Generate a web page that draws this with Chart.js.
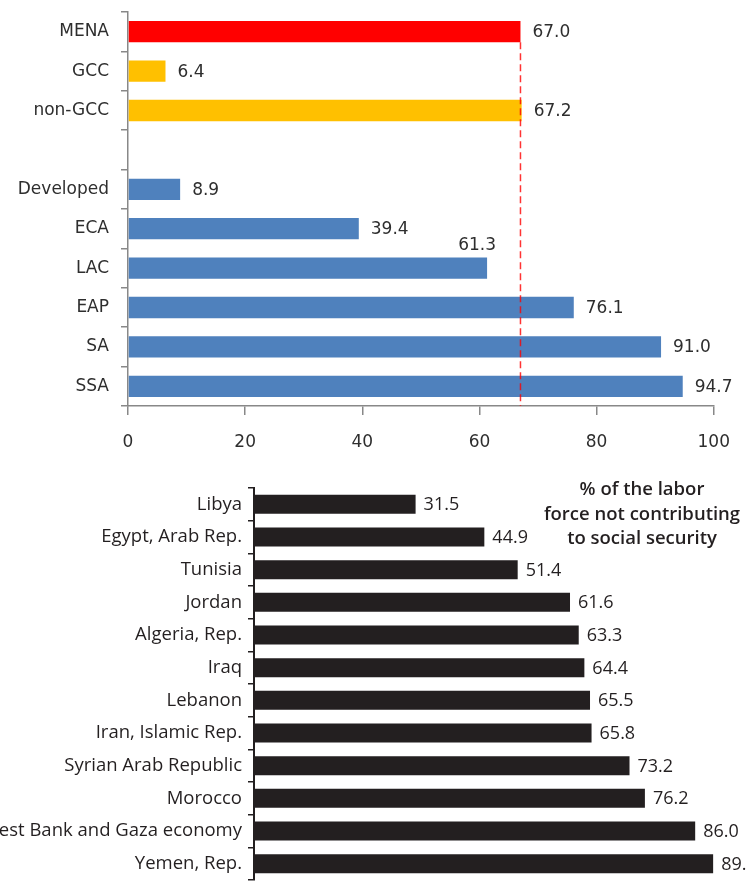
<!DOCTYPE html>
<html>
<head>
<meta charset="utf-8">
<script src="https://cdn.jsdelivr.net/npm/chart.js@4"></script>
<style>
  html, body { margin: 0; padding: 0; background: #fff; overflow: hidden; }
  #wrap { position: relative; width: 747px; height: 887px; overflow: hidden; }
  #regionChart { position: absolute; left: 0; top: 0; }
  #countryChart { position: absolute; left: 0; top: 460px; }
</style>
</head>
<body>
<div id="wrap">
  <canvas id="regionChart" width="747" height="460"></canvas>
  <canvas id="countryChart" width="770" height="427"></canvas>
</div>
<script>
// top panel: regions
const regionLabels = ["MENA", "GCC", "non-GCC", "", "Developed", "ECA", "LAC", "EAP", "SA", "SSA"];
const regionValues = [67.0, 6.4, 67.2, null, 8.9, 39.4, 61.3, 76.1, 91.0, 94.7];
const regionColors = ["#ff0000", "#ffc000", "#ffc000", "#ffffff", "#4f81bd", "#4f81bd", "#4f81bd", "#4f81bd", "#4f81bd", "#4f81bd"];
const regionTicks = [0, 20, 40, 60, 80, 100];

// bottom panel: MENA countries
const countryLabels = [
  "Libya", "Egypt, Arab Rep.", "Tunisia", "Jordan", "Algeria, Rep.", "Iraq",
  "Lebanon", "Iran, Islamic Rep.", "Syrian Arab Republic", "Morocco",
  "West Bank and Gaza economy", "Yemen, Rep."
];
const countryValues = [31.5, 44.9, 51.4, 61.6, 63.3, 64.4, 65.5, 65.8, 73.2, 76.2, 86.0, 89.5];
const countryTitle = ["% of the labor", "force not contributing", "to social security"];

// value labels at the end of each bar
const valueLabels = {
  id: "valueLabels",
  afterDatasetsDraw(chart, args, opts) {
    const ctx = chart.ctx;
    const meta = chart.getDatasetMeta(0);
    const data = chart.data.datasets[0].data;
    ctx.save();
    ctx.font = opts.font;
    ctx.fillStyle = opts.color;
    ctx.textBaseline = "middle";
    meta.data.forEach((bar, i) => {
      const v = data[i];
      if (v == null) return;
      const txt = v.toFixed(1);
      if ((opts.above || []).includes(chart.data.labels[i])) {
        ctx.textAlign = "center";
        ctx.fillText(txt, bar.x - 10, bar.y - 23);
      } else {
        ctx.textAlign = "left";
        ctx.fillText(txt, bar.x + opts.gap, bar.y + 1);
      }
    });
    ctx.restore();
  }
};

// dashed reference line at the MENA value
const menaLine = {
  id: "menaLine",
  afterDatasetsDraw(chart) {
    const ctx = chart.ctx;
    const bar = chart.getDatasetMeta(0).data[0];
    const x = chart.scales.x.getPixelForValue(chart.data.datasets[0].data[0]);
    ctx.save();
    ctx.strokeStyle = "rgba(255,0,0,0.8)";
    ctx.lineWidth = 1.5;
    ctx.setLineDash([7, 4]);
    ctx.beginPath();
    ctx.moveTo(x, bar.y + bar.height / 2);
    ctx.lineTo(x, chart.chartArea.bottom);
    ctx.stroke();
    ctx.restore();
  }
};

// floating note in the bottom panel
const noteText = {
  id: "noteText",
  afterDraw(chart, args, opts) {
    const ctx = chart.ctx;
    ctx.save();
    ctx.font = opts.font;
    ctx.fillStyle = opts.color;
    ctx.textAlign = "center";
    ctx.textBaseline = "middle";
    opts.lines.forEach((line, i) => ctx.fillText(line, opts.x, opts.y + i * opts.lineHeight));
    ctx.restore();
  }
};

new Chart(document.getElementById("regionChart"), {
  type: "bar",
  data: {
    labels: regionLabels,
    datasets: [{
      data: regionValues,
      backgroundColor: regionColors,
      categoryPercentage: 0.54,
      barPercentage: 1
    }]
  },
  options: {
    indexAxis: "y",
    responsive: false,
    animation: false,
    layout: { padding: { top: 12, right: 25, bottom: 0, left: 0 } },
    plugins: {
      legend: { display: false },
      tooltip: { enabled: false },
      valueLabels: { font: "17px 'DejaVu Sans'", color: "#2e2e2e", gap: 12, above: ["LAC"] }
    },
    scales: {
      x: {
        min: 0,
        max: 100,
        afterBuildTicks: s => { s.ticks = regionTicks.map(v => ({ value: v })); },
        afterFit: s => { s.height = 54; },
        grid: { drawOnChartArea: false, drawTicks: true, tickLength: 9, color: "#888888", lineWidth: 1.5 },
        border: { display: true, color: "#888888", width: 1.5 },
        ticks: { color: "#2e2e2e", font: { family: "DejaVu Sans", size: 17 }, padding: 17, maxRotation: 0 }
      },
      y: {
        afterFit: s => { s.width = 128; s.paddingTop = 0; s.paddingBottom = 0; },
        grid: { drawOnChartArea: false, drawTicks: true, tickLength: 7, color: "#888888", lineWidth: 1.5, offset: true },
        border: { display: true, color: "#888888", width: 1.5 },
        ticks: { color: "#2e2e2e", font: { family: "DejaVu Sans", size: 17 }, padding: 12, autoSkip: false }
      }
    }
  },
  plugins: [valueLabels, menaLine]
});

new Chart(document.getElementById("countryChart"), {
  type: "bar",
  data: {
    labels: countryLabels,
    datasets: [{
      data: countryValues,
      backgroundColor: "#231f20",
      categoryPercentage: 0.58,
      barPercentage: 1
    }]
  },
  options: {
    indexAxis: "y",
    responsive: false,
    animation: false,
    layout: { padding: { top: 28, right: 3, bottom: 7, left: 0 } },
    plugins: {
      legend: { display: false },
      tooltip: { enabled: false },
      valueLabels: { font: "18px 'Open Sans'", color: "#231f20", gap: 8 },
      noteText: {
        lines: countryTitle,
        font: "600 18.5px 'Open Sans'",
        color: "#231f20",
        x: 642,
        y: 30,
        lineHeight: 24.5
      }
    },
    scales: {
      x: { display: false, min: 0, max: 100 },
      y: {
        afterFit: s => { s.width = 254; s.paddingTop = 0; s.paddingBottom = 0; },
        grid: { drawOnChartArea: false, drawTicks: true, tickLength: 6, color: "#231f20", lineWidth: 1.5, offset: true },
        border: { display: true, color: "#231f20", width: 2 },
        ticks: { color: "#231f20", font: { family: "Open Sans", size: 18.5 }, padding: 6, autoSkip: false }
      }
    }
  },
  plugins: [valueLabels, noteText]
});
</script>
</body>
</html>
